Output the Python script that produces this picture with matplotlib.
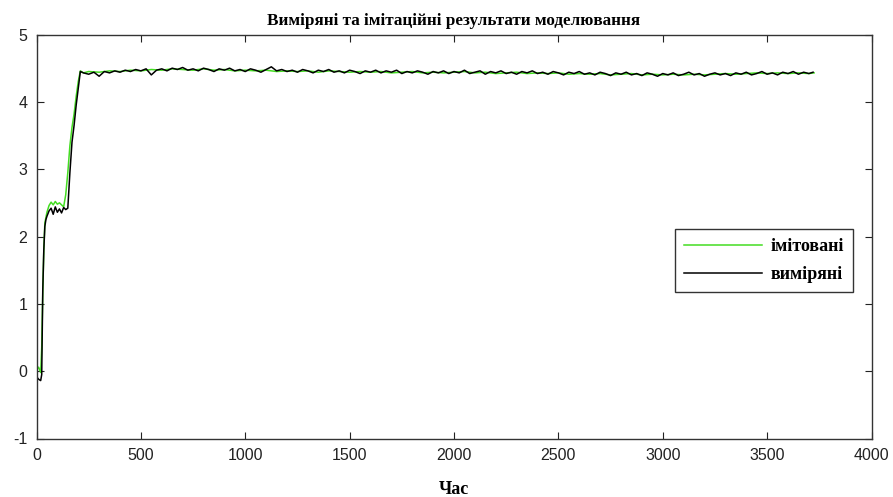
import matplotlib
matplotlib.use("Agg")
import matplotlib.pyplot as plt

# --- data ---
# simulated (green) series
sim_time = [0, 10, 20, 25, 30, 35, 40, 50, 60, 70, 80, 90, 100, 110, 120,
            130, 140, 150, 160, 170, 180, 190, 200, 210, 225,
            250, 300, 350, 400, 450, 500, 550, 600, 650, 700,
            750, 800, 850, 900, 950, 1000, 1050, 1100, 1150, 1200,
            1250, 1300, 1350, 1400, 1450, 1500, 1550, 1600, 1650, 1700,
            1750, 1800, 1850, 1900, 1950, 2000, 2050, 2100, 2150, 2200,
            2250, 2300, 2350, 2400, 2450, 2500, 2550, 2600, 2650, 2700,
            2750, 2800, 2850, 2900, 2950, 3000, 3050, 3100, 3150, 3200,
            3250, 3300, 3350, 3400, 3450, 3500, 3550, 3600, 3650, 3700, 3725]
sim_values = [0.02, 0.06, -0.02, 0.35, 1.15, 1.80, 2.20, 2.36, 2.46, 2.51, 2.47, 2.52, 2.48, 2.50, 2.47,
              2.44, 2.62, 2.95, 3.35, 3.62, 3.82, 4.08, 4.30, 4.46, 4.43,
              4.45, 4.44, 4.46, 4.45, 4.47, 4.46, 4.48, 4.47, 4.49, 4.48,
              4.47, 4.49, 4.47, 4.48, 4.46, 4.47, 4.46, 4.47, 4.45, 4.46,
              4.45, 4.46, 4.44, 4.46, 4.45, 4.44, 4.45, 4.44, 4.45, 4.43,
              4.44, 4.45, 4.43, 4.44, 4.43, 4.44, 4.45, 4.43, 4.44, 4.42,
              4.43, 4.44, 4.42, 4.43, 4.42, 4.43, 4.41, 4.42, 4.41, 4.42,
              4.40, 4.41, 4.42, 4.40, 4.41, 4.40, 4.41, 4.40, 4.41, 4.40,
              4.41, 4.42, 4.41, 4.42, 4.43, 4.42, 4.43, 4.42, 4.43, 4.42, 4.43]

# measured (black) series
meas_time = [0, 10, 20, 25, 30, 35, 40, 45, 50, 60, 70, 80, 90, 100, 110,
             120, 130, 140, 150, 160, 170, 180, 190, 200, 210,
             225, 250, 275, 300, 325, 350, 375, 400, 425, 450,
             475, 500, 525, 550, 575, 600, 625, 650, 675, 700,
             725, 750, 775, 800, 825, 850, 875, 900, 925, 950,
             975, 1000, 1025, 1050, 1075, 1100, 1125, 1150, 1175, 1200,
             1225, 1250, 1275, 1300, 1325, 1350, 1375, 1400, 1425, 1450,
             1475, 1500, 1525, 1550, 1575, 1600, 1625, 1650, 1675, 1700,
             1725, 1750, 1775, 1800, 1825, 1850, 1875, 1900, 1925, 1950,
             1975, 2000, 2025, 2050, 2075, 2100, 2125, 2150, 2175, 2200,
             2225, 2250, 2275, 2300, 2325, 2350, 2375, 2400, 2425, 2450,
             2475, 2500, 2525, 2550, 2575, 2600, 2625, 2650, 2675, 2700,
             2725, 2750, 2775, 2800, 2825, 2850, 2875, 2900, 2925, 2950,
             2975, 3000, 3025, 3050, 3075, 3100, 3125, 3150, 3175, 3200,
             3225, 3250, 3275, 3300, 3325, 3350, 3375, 3400, 3425, 3450,
             3475, 3500, 3525, 3550, 3575, 3600, 3625, 3650, 3675, 3700, 3720]
meas_values = [-0.08, -0.12, -0.14, -0.05, 1.20, 1.80, 2.15, 2.25, 2.30, 2.38, 2.42, 2.33, 2.44, 2.36, 2.41,
               2.35, 2.43, 2.40, 2.42, 2.95, 3.40, 3.65, 3.95, 4.20, 4.45,
               4.43, 4.41, 4.44, 4.38, 4.45, 4.43, 4.46, 4.44, 4.47, 4.45,
               4.48, 4.46, 4.49, 4.40, 4.47, 4.49, 4.46, 4.50, 4.48, 4.51,
               4.47, 4.49, 4.46, 4.50, 4.48, 4.45, 4.49, 4.47, 4.50, 4.46,
               4.48, 4.45, 4.49, 4.47, 4.44, 4.48, 4.52, 4.46, 4.48, 4.45,
               4.47, 4.44, 4.48, 4.46, 4.43, 4.47, 4.45, 4.48, 4.44, 4.46,
               4.43, 4.47, 4.45, 4.42, 4.46, 4.44, 4.47, 4.43, 4.46, 4.44,
               4.47, 4.42, 4.45, 4.43, 4.46, 4.44, 4.41, 4.45, 4.43, 4.46,
               4.42, 4.45, 4.43, 4.47, 4.42, 4.44, 4.46, 4.41, 4.45, 4.43,
               4.46, 4.42, 4.44, 4.41, 4.45, 4.43, 4.46, 4.42, 4.44, 4.41,
               4.45, 4.43, 4.40, 4.44, 4.42, 4.45, 4.41, 4.43, 4.40, 4.44,
               4.42, 4.39, 4.43, 4.41, 4.44, 4.40, 4.42, 4.39, 4.43, 4.41,
               4.38, 4.42, 4.40, 4.43, 4.39, 4.41, 4.44, 4.40, 4.42, 4.38,
               4.41, 4.43, 4.40, 4.42, 4.39, 4.43, 4.41, 4.44, 4.40, 4.42,
               4.45, 4.41, 4.43, 4.40, 4.44, 4.42, 4.45, 4.41, 4.44, 4.42, 4.44]

x_ticks = [0, 500, 1000, 1500, 2000, 2500, 3000, 3500, 4000]
y_ticks = [-1, 0, 1, 2, 3, 4, 5]

TITLE = "Виміряні та імітаційні результати моделювання"
XLABEL = "Час"
LABEL_SIM = "імітовані"
LABEL_MEAS = "виміряні"


def main():
    plt.rcParams["axes.unicode_minus"] = False
    fig = plt.figure(figsize=(8.93, 4.97), dpi=100)
    ax = fig.add_axes([36.5 / 893, (497 - 438.5) / 497, 835 / 893, 404 / 497])

    ax.plot(sim_time, sim_values, color="#44dd22", linewidth=1.1, label=LABEL_SIM)
    ax.plot(meas_time, meas_values, color="black", linewidth=1.1, label=LABEL_MEAS)

    ax.set_xlim(0, 4000)
    ax.set_ylim(-1, 5)
    ax.set_xticks(x_ticks)
    ax.set_yticks(y_ticks)
    ax.tick_params(direction="in", top=True, right=True, length=5, width=0.8,
                   labelsize=11.5, pad=6.5, colors="#222222")
    for lbl in ax.get_xticklabels() + ax.get_yticklabels():
        lbl.set_fontfamily("Liberation Sans")
    for sp in ax.spines.values():
        sp.set_linewidth(1.0)
        sp.set_color("#333333")

    ax.set_title(TITLE, fontfamily="Liberation Serif", fontweight="bold",
                 fontsize=12.3, pad=7)
    ax.set_xlabel(XLABEL, fontfamily="Liberation Serif", fontweight="bold",
                  fontsize=13, labelpad=13)

    leg = ax.legend(loc="center right", bbox_to_anchor=(0.978, 0.44),
                    prop={"family": "Liberation Serif", "weight": "bold", "size": 13},
                    fancybox=False, edgecolor="#333333", framealpha=1,
                    handlelength=4.3, handletextpad=0.5, borderpad=0.5,
                    labelspacing=0.6, borderaxespad=0)
    leg.get_frame().set_linewidth(1.0)

    fig.savefig("out.png", dpi=100)


if __name__ == "__main__":
    main()
